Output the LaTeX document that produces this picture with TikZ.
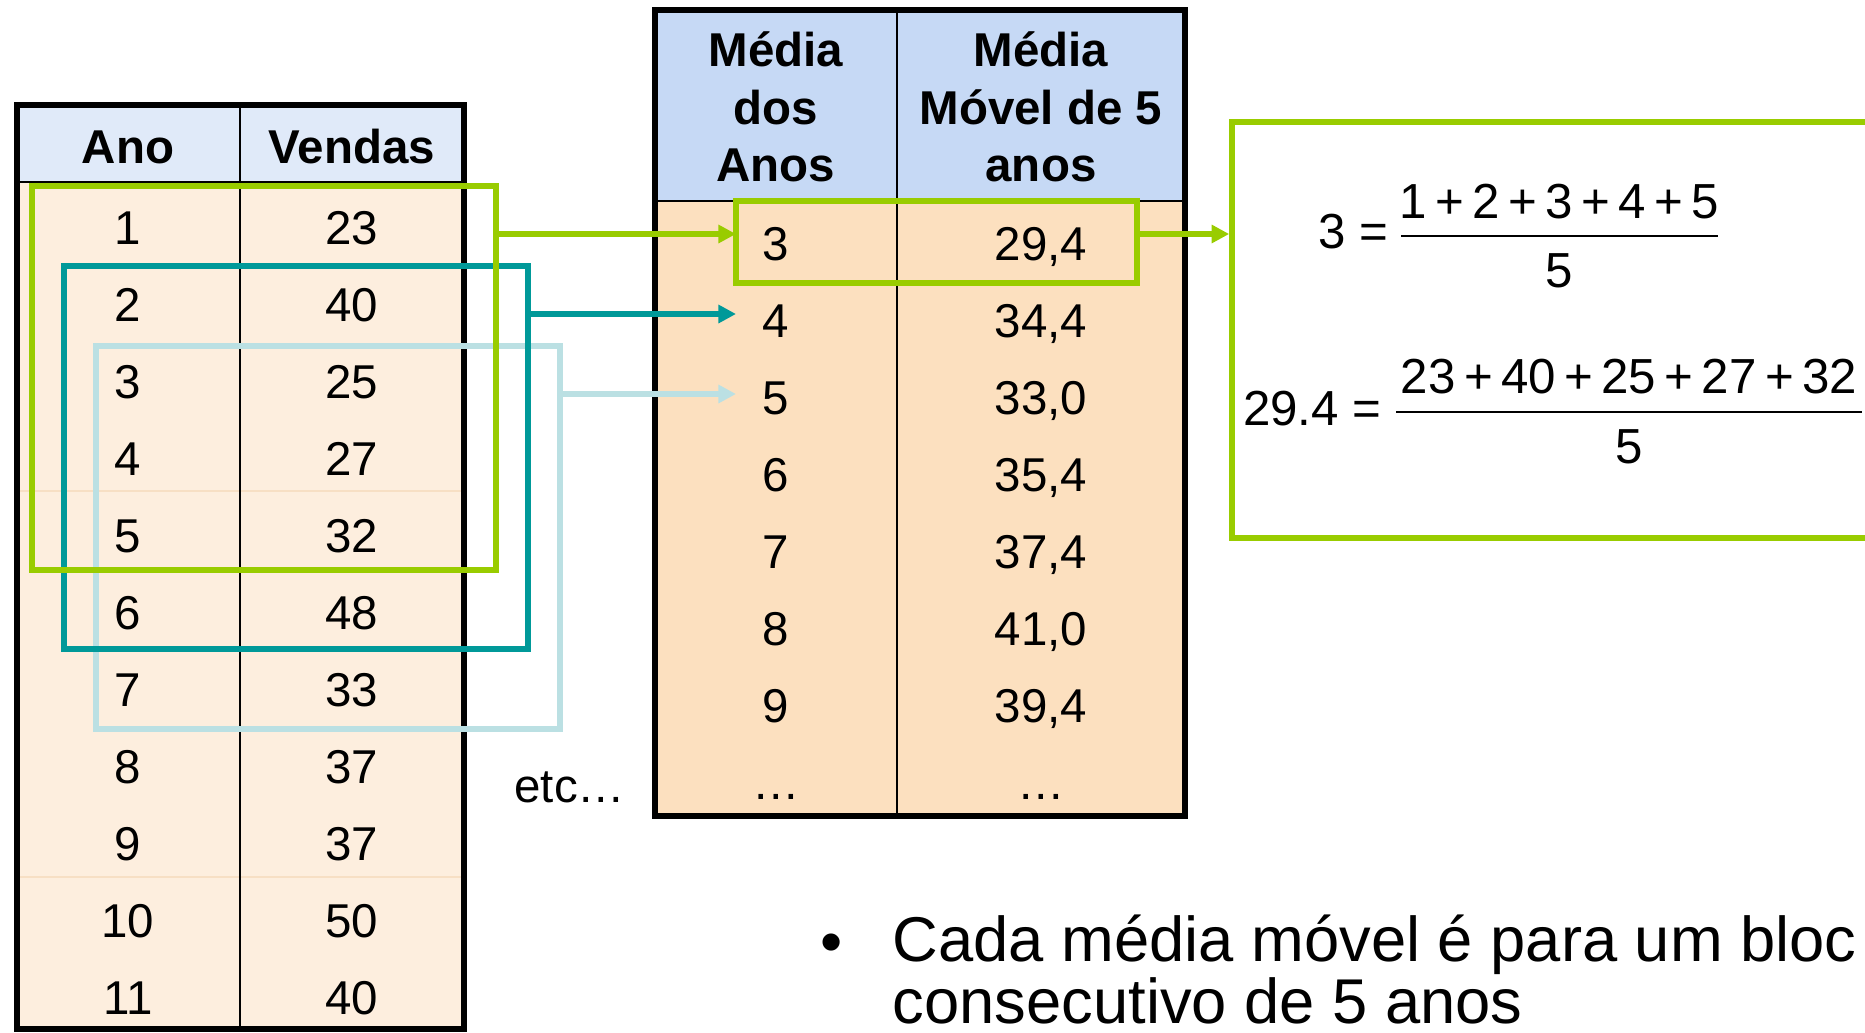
\documentclass[tikz,border=0pt]{standalone}
\usepackage{fontspec}
\setmainfont{Liberation Sans}
\usetikzlibrary{positioning, arrows.meta, fit}

\definecolor{boxgreen}{HTML}{99CC00}
\definecolor{boxteal}{HTML}{009999}
\definecolor{boxblue}{HTML}{BBE0E3}
\definecolor{hdrleft}{HTML}{E0EAF9}
\definecolor{hdrmid}{HTML}{C6D9F5}
\definecolor{bodyleft}{HTML}{FDEEDE}
\definecolor{bodymid}{HTML}{FCE0BF}
\definecolor{rowline}{HTML}{F7DFC4}

\newcommand{\pls}{\hspace{2.4pt}+\hspace{2.4pt}}

\tikzset{
  cell/.style={anchor=base, inner sep=0pt, font=\fontsize{13.5}{16.3}\selectfont},
  head/.style={align=center, inner sep=0pt, font=\bfseries\fontsize{13.5}{16.3}\selectfont},
  frm/.style={line width=1.5pt},
  divider/.style={line width=0.7pt},
  win/.style={line width=1.6pt, inner sep=0pt},
  link/.style={line width=1.5pt, -{Triangle[length=5pt,width=5pt]}},
  formula/.style={inner sep=0pt, font=\fontsize{14}{16}\selectfont}
}

\begin{document}
\begin{tikzpicture}[x=0.01cm, y=-0.01cm]
  \useasboundingbox (0,0) rectangle (1865,1033);
  \clip (0,0) rectangle (1865,1033);

  % Ano / Vendas table
  \fill[hdrleft] (17,105) rectangle (464,182);
  \fill[bodyleft] (17,182) rectangle (464,1029);
  \draw[rowline] (17,491) -- (464,491) (17,877) -- (464,877);
  \draw[divider] (240,105) -- (240,1029) (17,182) -- (464,182);
  \draw[frm] (17,105) rectangle (464,1029);

  \node[head, anchor=base] (hano) at (128,163) {Ano};
  \node[head, anchor=base] (hvendas) at (352,163) {Vendas};
  \foreach \a/\v [count=\i] in {1/23, 2/40, 3/25, 4/27, 5/32, 6/48, 7/33, 8/37, 9/37, 10/50, 11/40} {
    \node[cell] (ano\i) at (128,{167.5+77*\i}) {\a};
    \node[cell] (vnd\i) at (352,{167.5+77*\i}) {\v};
  }

  % moving average table
  \fill[hdrmid] (655,10) rectangle (1185,201);
  \fill[bodymid] (655,201) rectangle (1185,816);
  \draw[divider] (897,10) -- (897,816) (655,201) -- (1185,201);
  \draw[frm] (655,10) rectangle (1185,816);

  \node[head] (hmedia) at (776,107) {Média\\dos\\Anos};
  \node[head] (hmovel) at (1041,107) {Média\\Móvel de 5\\anos};
  \foreach \m/\s [count=\k] in {3/{29,4}, 4/{34,4}, 5/{33,0}, 6/{35,4}, 7/{37,4}, 8/{41,0}, 9/{39,4}, …/…} {
    \node[cell] (med\k) at (776,{183.5+77*\k}) {\m};
    \node[cell] (mov\k) at (1041,{183.5+77*\k}) {\s};
  }

  \node[cell] (etc) at (570,802) {etc…};

  % windows of 5 years
  \node[win, draw=boxblue, fit={(96,346) (560,729)}] (wblue) {};
  \node[win, draw=boxteal, fit={(64,266) (528,649)}] (wteal) {};
  \node[win, draw=boxgreen, fit={(32,186) (496,570)}] (wgreen) {};
  \node[win, draw=boxgreen, fit={(736,201) (1137,283)}] (wsel) {};
  \node[win, draw=boxgreen, fit={(1232,122) (1900,538)}] (wcalc) {};

  \coordinate (r3) at (736,234);
  \coordinate (r4) at (736,314);
  \coordinate (r5) at (736,394);
  \draw[link, boxgreen] (wgreen.east |- r3) -- (r3);
  \draw[link, boxteal] (wteal.east |- r4) -- (r4);
  \draw[link, boxblue] (wblue.east |- r5) -- (r5);
  \draw[link, boxgreen] (wsel.east |- r3) -- (wcalc.west |- r3);

  % the two averages
  \node[formula, anchor=base east] (lhsa) at (1389,248) {3 =};
  \node[formula, anchor=base] (numa) at (1559,218) {1\pls 2\pls 3\pls 4\pls 5};
  \node[formula, anchor=base] (dena) at (1559,287) {5};
  \draw[line width=0.6pt] (1401,236) -- (1718,236);

  \node[formula, anchor=base east] (lhsb) at (1382,425) {29.4 =};
  \node[formula, anchor=base] (numb) at (1629,393) {23\pls 40\pls 25\pls 27\pls 32};
  \node[formula, anchor=base] (denb) at (1629,463) {5};
  \draw[line width=0.6pt] (1396,412) -- (1862,412);

  \node[anchor=base, inner sep=0pt, font=\fontsize{18}{17.5}\selectfont] (dot) at (832,963) {•};
  \node[anchor=base west, align=left, inner sep=0pt, font=\fontsize{18}{17.5}\selectfont] (note) at (892,1023)
    {Cada média móvel é para um bloc\\consecutivo de 5 anos};
\end{tikzpicture}
\end{document}
